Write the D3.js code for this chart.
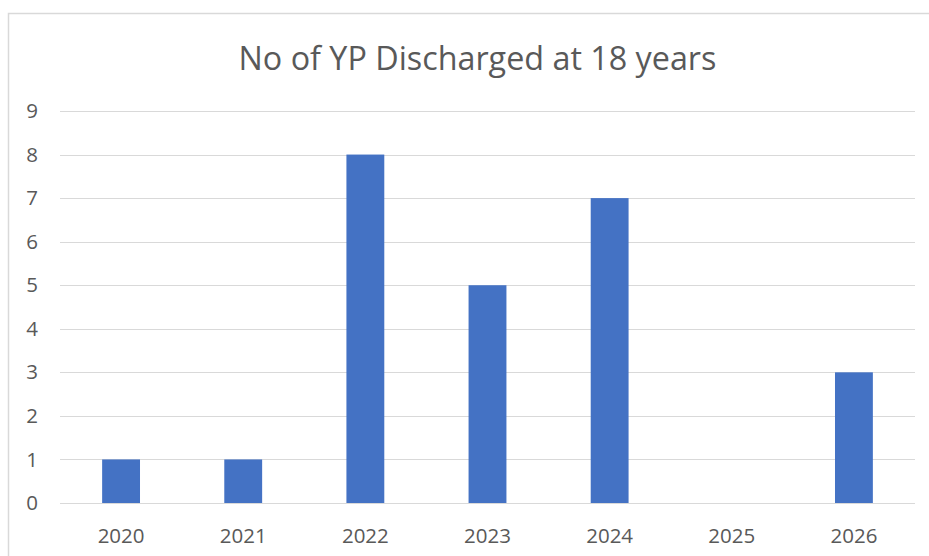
<!DOCTYPE html>
<html><head><meta charset="utf-8">
<script src="https://cdn.jsdelivr.net/npm/d3@7"></script>
<style>body{margin:0;background:#fff;} svg{display:block;}</style>
</head><body>
<svg id="c" width="929" height="556"></svg>
<script>
const categories = ["2020","2021","2022","2023","2024","2025","2026"];
const values = [1,1,8,5,7,0,3];
const yTicks = [0,1,2,3,4,5,6,7,8,9];
const title = "No of YP Discharged at 18 years";

const svg = d3.select("#c");
const font = "'Open Sans', sans-serif";
const textColor = "#595959";
const m = {left:60, right:915, top:111, bottom:503};

// frame
svg.append("path").attr("d","M8.5,556 V13.5 H929").attr("fill","none").attr("stroke","#d9d9d9").attr("stroke-width",1.5);

const x = d3.scaleBand().domain(categories).range([m.left, m.right]).paddingInner(0.69).paddingOuter(0.345);
const y = d3.scaleLinear().domain([0,9]).range([m.bottom, m.top]);

// gridlines
svg.append("g").selectAll("line").data(yTicks).join("line")
  .attr("x1", m.left).attr("x2", m.right)
  .attr("y1", d=>Math.round(y(d))+0.5).attr("y2", d=>Math.round(y(d))+0.5)
  .attr("stroke","#d9d9d9").attr("stroke-width",1);

// bars
svg.append("g").selectAll("rect").data(values).join("rect")
  .attr("x",(d,i)=>x(categories[i])).attr("width",x.bandwidth())
  .attr("y",d=>y(d)).attr("height",d=>y(0)-y(d))
  .attr("fill","#4472C4");

// y axis labels
const yAxis = d3.axisLeft(y).tickValues(yTicks).tickSize(0).tickPadding(0).tickFormat(d3.format("d"));
const gy = svg.append("g").attr("transform","translate(38,0)").call(yAxis);
gy.select(".domain").remove();
gy.selectAll("text").attr("font-family",font).attr("font-size",20.5).attr("fill",textColor);

// x axis labels
const xAxis = d3.axisBottom(x).tickSize(0).tickPadding(0);
const gx = svg.append("g").attr("transform",`translate(0,${m.bottom+40})`).call(xAxis);
gx.select(".domain").remove();
gx.selectAll("text").attr("dy","0").attr("font-family",font).attr("font-size",20.5).attr("fill",textColor);

// title
svg.append("text").attr("x",477.5).attr("y",69.5).attr("text-anchor","middle")
  .attr("font-family",font).attr("font-size",32.3).attr("fill",textColor).text(title);
</script>
</body></html>
